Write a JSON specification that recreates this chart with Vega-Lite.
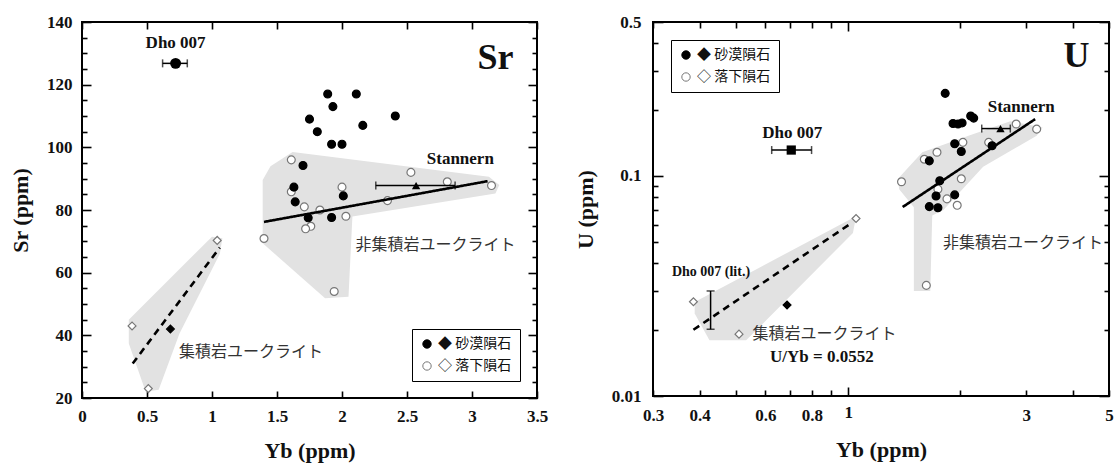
{
"$schema": "https://vega.github.io/schema/vega-lite/v6.json",
"padding": {"left": 8, "top": 12, "right": 5, "bottom": 5},
"autosize": {"type": "pad"},
"config": {
  "view": {"stroke": "#000", "strokeWidth": 2},
  "font": "Liberation Serif",
  "axis": {"grid": false, "domain": false, "labelFont": "Liberation Serif", "labelFontWeight": "bold", "labelFontSize": 17, "labelColor": "#111", "titleFont": "Liberation Serif", "titleFontWeight": "bold", "titleFontSize": 22, "titleColor": "#111", "tickColor": "#000", "tickWidth": 1.6, "labelFlush": false, "labelOverlap": false, "labelBound": false},
  "legend": {"strokeColor": "#000", "fillColor": "#fff", "padding": 8, "labelFont": "Noto Sans CJK JP", "labelFontSize": 14, "labelColor": "#111", "symbolSize": 70, "symbolStrokeColor": "#444", "symbolStrokeWidth": 1, "rowPadding": 8, "symbolType": "circle"}
},
"datasets": {
  "sr_pts": [
    {"yb": 1.61, "sr": 96, "src": "落下隕石", "grp": "非集積岩"},
    {"yb": 2.53, "sr": 92, "src": "落下隕石", "grp": "非集積岩"},
    {"yb": 2.81, "sr": 89, "src": "落下隕石", "grp": "非集積岩"},
    {"yb": 3.15, "sr": 87.8, "src": "落下隕石", "grp": "非集積岩"},
    {"yb": 2.00, "sr": 87.3, "src": "落下隕石", "grp": "非集積岩"},
    {"yb": 1.61, "sr": 85.8, "src": "落下隕石", "grp": "非集積岩"},
    {"yb": 2.35, "sr": 83, "src": "落下隕石", "grp": "非集積岩"},
    {"yb": 1.71, "sr": 81, "src": "落下隕石", "grp": "非集積岩"},
    {"yb": 1.83, "sr": 80, "src": "落下隕石", "grp": "非集積岩"},
    {"yb": 2.03, "sr": 78, "src": "落下隕石", "grp": "非集積岩"},
    {"yb": 1.76, "sr": 74.8, "src": "落下隕石", "grp": "非集積岩"},
    {"yb": 1.72, "sr": 74, "src": "落下隕石", "grp": "非集積岩"},
    {"yb": 1.40, "sr": 70.9, "src": "落下隕石", "grp": "非集積岩"},
    {"yb": 1.94, "sr": 54, "src": "落下隕石", "grp": "非集積岩"},
    {"yb": 1.04, "sr": 70.3, "src": "落下隕石", "grp": "集積岩"},
    {"yb": 0.385, "sr": 43, "src": "落下隕石", "grp": "集積岩"},
    {"yb": 0.51, "sr": 23, "src": "落下隕石", "grp": "集積岩"},
    {"yb": 1.89, "sr": 117, "src": "砂漠隕石", "grp": "非集積岩"},
    {"yb": 2.11, "sr": 117, "src": "砂漠隕石", "grp": "非集積岩"},
    {"yb": 1.93, "sr": 113, "src": "砂漠隕石", "grp": "非集積岩"},
    {"yb": 1.75, "sr": 109, "src": "砂漠隕石", "grp": "非集積岩"},
    {"yb": 2.41, "sr": 110, "src": "砂漠隕石", "grp": "非集積岩"},
    {"yb": 1.81, "sr": 105, "src": "砂漠隕石", "grp": "非集積岩"},
    {"yb": 2.16, "sr": 107, "src": "砂漠隕石", "grp": "非集積岩"},
    {"yb": 1.92, "sr": 101, "src": "砂漠隕石", "grp": "非集積岩"},
    {"yb": 2.00, "sr": 101, "src": "砂漠隕石", "grp": "非集積岩"},
    {"yb": 1.70, "sr": 94.2, "src": "砂漠隕石", "grp": "非集積岩"},
    {"yb": 1.63, "sr": 87.3, "src": "砂漠隕石", "grp": "非集積岩"},
    {"yb": 1.64, "sr": 82.6, "src": "砂漠隕石", "grp": "非集積岩"},
    {"yb": 2.01, "sr": 84.5, "src": "砂漠隕石", "grp": "非集積岩"},
    {"yb": 1.74, "sr": 77.5, "src": "砂漠隕石", "grp": "非集積岩"},
    {"yb": 1.92, "sr": 77.6, "src": "砂漠隕石", "grp": "非集積岩"},
    {"yb": 0.68, "sr": 42, "src": "砂漠隕石", "grp": "集積岩"}
  ],
  "sr_poly": [
    {"region": "非集積岩", "i": 0, "yb": 1.39, "sr": 69.4},
    {"region": "非集積岩", "i": 1, "yb": 1.39, "sr": 89.6},
    {"region": "非集積岩", "i": 2, "yb": 1.45, "sr": 94},
    {"region": "非集積岩", "i": 3, "yb": 1.62, "sr": 98.5},
    {"region": "非集積岩", "i": 4, "yb": 3.13, "sr": 90.6},
    {"region": "非集積岩", "i": 5, "yb": 3.21, "sr": 88},
    {"region": "非集積岩", "i": 6, "yb": 3.18, "sr": 85.3},
    {"region": "非集積岩", "i": 7, "yb": 2.08, "sr": 77.9},
    {"region": "非集積岩", "i": 8, "yb": 2.05, "sr": 52.3},
    {"region": "非集積岩", "i": 9, "yb": 1.87, "sr": 51.8},
    {"region": "集積岩", "i": 0, "yb": 0.36, "sr": 37.4},
    {"region": "集積岩", "i": 1, "yb": 0.36, "sr": 45},
    {"region": "集積岩", "i": 2, "yb": 1.0, "sr": 71.5},
    {"region": "集積岩", "i": 3, "yb": 1.08, "sr": 71},
    {"region": "集積岩", "i": 4, "yb": 1.06, "sr": 66},
    {"region": "集積岩", "i": 5, "yb": 0.75, "sr": 40.6},
    {"region": "集積岩", "i": 6, "yb": 0.59, "sr": 22.6},
    {"region": "集積岩", "i": 7, "yb": 0.49, "sr": 22}
  ],
  "sr_fit": [
    {"fit": "非集積岩", "yb": 1.40, "sr": 76.2},
    {"fit": "非集積岩", "yb": 3.12, "sr": 89.2},
    {"fit": "集積岩", "yb": 0.39, "sr": 31},
    {"fit": "集積岩", "yb": 1.06, "sr": 68}
  ],
  "sr_special": [
    {"name": "Dho 007", "yb": 0.72, "sr": 126.8, "lo": 0.62, "hi": 0.81},
    {"name": "Stannern", "yb": 2.57, "sr": 87.8, "lo": 2.26, "hi": 2.87}
  ],
  "sr_text": [
    {"label": "Dho 007", "yb": 0.72, "sr": 133.2, "kind": "name"},
    {"label": "Stannern", "yb": 2.91, "sr": 96.3, "kind": "name"},
    {"label": "Sr", "yb": 3.18, "sr": 128.6, "kind": "big"},
    {"label": "非集積岩ユークライト", "yb": 2.72, "sr": 68.8, "kind": "jp"},
    {"label": "集積岩ユークライト", "yb": 1.30, "sr": 34.8, "kind": "jp"}
  ],
  "u_pts": [
    {"yb": 2.82, "u": 0.172, "src": "落下隕石", "grp": "非集積岩"},
    {"yb": 3.2, "u": 0.163, "src": "落下隕石", "grp": "非集積岩"},
    {"yb": 2.38, "u": 0.142, "src": "落下隕石", "grp": "非集積岩"},
    {"yb": 2.03, "u": 0.142, "src": "落下隕石", "grp": "非集積岩"},
    {"yb": 1.73, "u": 0.128, "src": "落下隕石", "grp": "非集積岩"},
    {"yb": 1.60, "u": 0.119, "src": "落下隕石", "grp": "非集積岩"},
    {"yb": 1.39, "u": 0.094, "src": "落下隕石", "grp": "非集積岩"},
    {"yb": 2.01, "u": 0.097, "src": "落下隕石", "grp": "非集積岩"},
    {"yb": 1.74, "u": 0.087, "src": "落下隕石", "grp": "非集積岩"},
    {"yb": 1.84, "u": 0.0786, "src": "落下隕石", "grp": "非集積岩"},
    {"yb": 1.96, "u": 0.0735, "src": "落下隕石", "grp": "非集積岩"},
    {"yb": 1.62, "u": 0.0318, "src": "落下隕石", "grp": "非集積岩"},
    {"yb": 1.05, "u": 0.064, "src": "落下隕石", "grp": "集積岩"},
    {"yb": 0.385, "u": 0.0268, "src": "落下隕石", "grp": "集積岩"},
    {"yb": 0.51, "u": 0.0191, "src": "落下隕石", "grp": "集積岩"},
    {"yb": 1.82, "u": 0.237, "src": "砂漠隕石", "grp": "非集積岩"},
    {"yb": 2.13, "u": 0.187, "src": "砂漠隕石", "grp": "非集積岩"},
    {"yb": 2.17, "u": 0.183, "src": "砂漠隕石", "grp": "非集積岩"},
    {"yb": 1.91, "u": 0.173, "src": "砂漠隕石", "grp": "非集積岩"},
    {"yb": 1.97, "u": 0.172, "src": "砂漠隕石", "grp": "非集積岩"},
    {"yb": 2.02, "u": 0.174, "src": "砂漠隕石", "grp": "非集積岩"},
    {"yb": 1.93, "u": 0.140, "src": "砂漠隕石", "grp": "非集積岩"},
    {"yb": 2.01, "u": 0.129, "src": "砂漠隕石", "grp": "非集積岩"},
    {"yb": 1.65, "u": 0.117, "src": "砂漠隕石", "grp": "非集積岩"},
    {"yb": 2.43, "u": 0.137, "src": "砂漠隕石", "grp": "非集積岩"},
    {"yb": 1.76, "u": 0.095, "src": "砂漠隕石", "grp": "非集積岩"},
    {"yb": 1.72, "u": 0.081, "src": "砂漠隕石", "grp": "非集積岩"},
    {"yb": 1.65, "u": 0.0725, "src": "砂漠隕石", "grp": "非集積岩"},
    {"yb": 1.74, "u": 0.0717, "src": "砂漠隕石", "grp": "非集積岩"},
    {"yb": 1.93, "u": 0.082, "src": "砂漠隕石", "grp": "非集積岩"},
    {"yb": 0.686, "u": 0.0259, "src": "砂漠隕石", "grp": "集積岩"}
  ],
  "u_poly": [
    {"region": "非集積岩", "i": 0, "yb": 3.32, "u": 0.166},
    {"region": "非集積岩", "i": 1, "yb": 2.72, "u": 0.177},
    {"region": "非集積岩", "i": 2, "yb": 2.12, "u": 0.153},
    {"region": "非集積岩", "i": 3, "yb": 1.58, "u": 0.128},
    {"region": "非集積岩", "i": 4, "yb": 1.36, "u": 0.097},
    {"region": "非集積岩", "i": 5, "yb": 1.37, "u": 0.087},
    {"region": "非集積岩", "i": 6, "yb": 1.50, "u": 0.072},
    {"region": "非集積岩", "i": 7, "yb": 1.50, "u": 0.030},
    {"region": "非集積岩", "i": 8, "yb": 1.66, "u": 0.030},
    {"region": "非集積岩", "i": 9, "yb": 1.68, "u": 0.066},
    {"region": "非集積岩", "i": 10, "yb": 1.80, "u": 0.070},
    {"region": "非集積岩", "i": 11, "yb": 2.3, "u": 0.11},
    {"region": "非集積岩", "i": 12, "yb": 3.2, "u": 0.152},
    {"region": "集積岩", "i": 0, "yb": 0.388, "u": 0.0267},
    {"region": "集積岩", "i": 1, "yb": 1.05, "u": 0.0656},
    {"region": "集積岩", "i": 2, "yb": 1.03, "u": 0.055},
    {"region": "集積岩", "i": 3, "yb": 0.533, "u": 0.0179},
    {"region": "集積岩", "i": 4, "yb": 0.425, "u": 0.0179},
    {"region": "集積岩", "i": 5, "yb": 0.388, "u": 0.0237}
  ],
  "u_fit": [
    {"fit": "非集積岩", "yb": 1.40, "u": 0.0722},
    {"fit": "非集積岩", "yb": 3.17, "u": 0.181},
    {"fit": "集積岩", "yb": 0.385, "u": 0.020},
    {"fit": "集積岩", "yb": 1.02, "u": 0.061}
  ],
  "u_special": [
    {"name": "Dho 007", "yb": 0.704, "u": 0.131, "lo": 0.624, "hi": 0.798},
    {"name": "Stannern", "yb": 2.56, "u": 0.164, "lo": 2.28, "hi": 2.72}
  ],
  "u_lit": [
    {"name": "Dho 007 (lit.)", "yb": 0.428, "lo": 0.0201, "hi": 0.030}
  ],
  "u_text": [
    {"label": "Dho 007", "yb": 0.708, "u": 0.157, "kind": "name"},
    {"label": "Stannern", "yb": 2.91, "u": 0.205, "kind": "name"},
    {"label": "U/Yb = 0.0552", "yb": 0.85, "u": 0.015, "kind": "name"},
    {"label": "Dho 007 (lit.)", "yb": 0.429, "u": 0.0364, "kind": "small"},
    {"label": "U", "yb": 4.09, "u": 0.35, "kind": "big"},
    {"label": "非集積岩ユークライト", "yb": 2.94, "u": 0.0498, "kind": "jp"},
    {"label": "集積岩ユークライト", "yb": 0.864, "u": 0.0192, "kind": "jp"}
  ]
},
"spacing": 24,
"resolve": {"scale": {"fill": "independent", "stroke": "independent", "strokeDash": "independent"}},
"hconcat": [
{
  "width": 455,
  "height": 376,
  "resolve": {"axis": {"x": "independent", "y": "independent"}},
  "layer": [
    {
      "data": {"name": "sr_poly"},
      "mark": {"type": "line", "interpolate": "linear-closed", "fill": "#e2e2e2", "strokeOpacity": 0},
      "encoding": {
        "x": {"field": "yb", "type": "quantitative", "scale": {"domain": [0, 3.5], "nice": false, "zero": false},
              "axis": {"orient": "bottom", "values": [0, 0.5, 1, 1.5, 2, 2.5, 3, 3.5], "format": "~g", "tickSize": -7, "labelPadding": 17, "title": "Yb (ppm)", "titlePadding": 16}},
        "y": {"field": "sr", "type": "quantitative", "scale": {"domain": [20, 140], "nice": false, "zero": false},
              "axis": {"orient": "left", "values": [20,25,30,35,40,45,50,55,60,65,70,75,80,85,90,95,100,105,110,115,120,125,130,135,140], "labelExpr": "datum.value % 20 === 0 ? datum.label : ''", "tickSize": {"condition": {"test": "datum.value % 20 === 0", "value": -9}, "value": -5}, "labelPadding": 19, "title": "Sr (ppm)", "titlePadding": 14}},
        "detail": {"field": "region", "type": "nominal"},
        "order": {"field": "i", "type": "quantitative"}
      }
    },
    {
      "data": {"name": "sr_pts"},
      "mark": {"type": "point", "filled": true, "size": 62, "strokeWidth": 1.2, "opacity": 1},
      "encoding": {
        "x": {"field": "yb", "type": "quantitative", "scale": {"domain": [0, 3.5], "nice": false, "zero": false}, "axis": null},
        "y": {"field": "sr", "type": "quantitative", "scale": {"domain": [20, 140], "nice": false, "zero": false}, "axis": null},
        "fill": {"field": "src", "type": "nominal", "scale": {"domain": ["砂漠隕石", "落下隕石"], "range": ["#000000", "#ffffff"]},
                 "legend": {"title": null, "orient": "bottom-right", "offset": 17, "labelExpr": "(datum.label === '砂漠隕石' ? '◆ ' : '◇ ') + datum.label"}},
        "stroke": {"field": "src", "type": "nominal", "scale": {"domain": ["砂漠隕石", "落下隕石"], "range": ["#000000", "#777777"]}, "legend": null},
        "shape": {"field": "grp", "type": "nominal", "scale": {"domain": ["非集積岩", "集積岩"], "range": ["circle", "diamond"]}, "legend": null}
      }
    },
    {
      "data": {"name": "sr_fit"},
      "mark": {"type": "line", "color": "#000", "strokeWidth": 2.6},
      "encoding": {
        "x": {"field": "yb", "type": "quantitative", "scale": {"domain": [0, 3.5], "nice": false, "zero": false},
              "axis": {"orient": "top", "values": [0, 0.5, 1, 1.5, 2, 2.5, 3, 3.5], "tickSize": -7, "labels": false, "title": null}},
        "y": {"field": "sr", "type": "quantitative", "scale": {"domain": [20, 140], "nice": false, "zero": false},
              "axis": {"orient": "right", "values": [20,25,30,35,40,45,50,55,60,65,70,75,80,85,90,95,100,105,110,115,120,125,130,135,140], "tickSize": {"condition": {"test": "datum.value % 20 === 0", "value": -9}, "value": -5}, "labels": false, "title": null}},
        "strokeDash": {"field": "fit", "type": "nominal", "scale": {"domain": ["非集積岩", "集積岩"], "range": [[1, 0], [7, 5]]}, "legend": null},
        "detail": {"field": "fit", "type": "nominal"}
      }
    },
    {
      "data": {"name": "sr_special"},
      "mark": {"type": "errorbar", "ticks": {"size": 8}, "color": "#000", "thickness": 1.5},
      "encoding": {
        "x": {"field": "lo", "type": "quantitative", "scale": {"domain": [0, 3.5], "nice": false, "zero": false}, "axis": null},
        "x2": {"field": "hi"},
        "y": {"field": "sr", "type": "quantitative", "scale": {"domain": [20, 140], "nice": false, "zero": false}, "axis": null}
      }
    },
    {
      "data": {"name": "sr_special"},
      "transform": [{"filter": "datum.name === 'Dho 007'"}],
      "mark": {"type": "point", "shape": "circle", "filled": true, "color": "#000", "size": 120, "opacity": 1},
      "encoding": {
        "x": {"field": "yb", "type": "quantitative", "scale": {"domain": [0, 3.5], "nice": false, "zero": false}, "axis": null},
        "y": {"field": "sr", "type": "quantitative", "scale": {"domain": [20, 140], "nice": false, "zero": false}, "axis": null}
      }
    },
    {
      "data": {"name": "sr_special"},
      "transform": [{"filter": "datum.name === 'Stannern'"}],
      "mark": {"type": "point", "shape": "triangle-up", "filled": true, "color": "#000", "size": 70, "opacity": 1},
      "encoding": {
        "x": {"field": "yb", "type": "quantitative", "scale": {"domain": [0, 3.5], "nice": false, "zero": false}, "axis": null},
        "y": {"field": "sr", "type": "quantitative", "scale": {"domain": [20, 140], "nice": false, "zero": false}, "axis": null}
      }
    },
    {
      "data": {"name": "sr_text"},
      "transform": [{"filter": "datum.kind === 'name'"}],
      "mark": {"type": "text", "font": "Liberation Serif", "fontWeight": "bold", "fontSize": 17, "color": "#111"},
      "encoding": {
        "x": {"field": "yb", "type": "quantitative", "scale": {"domain": [0, 3.5], "nice": false, "zero": false}, "axis": null},
        "y": {"field": "sr", "type": "quantitative", "scale": {"domain": [20, 140], "nice": false, "zero": false}, "axis": null},
        "text": {"field": "label"}
      }
    },
    {
      "data": {"name": "sr_text"},
      "transform": [{"filter": "datum.kind === 'big'"}],
      "mark": {"type": "text", "font": "Liberation Serif", "fontWeight": "bold", "fontSize": 36, "color": "#111"},
      "encoding": {
        "x": {"field": "yb", "type": "quantitative", "scale": {"domain": [0, 3.5], "nice": false, "zero": false}, "axis": null},
        "y": {"field": "sr", "type": "quantitative", "scale": {"domain": [20, 140], "nice": false, "zero": false}, "axis": null},
        "text": {"field": "label"}
      }
    },
    {
      "data": {"name": "sr_text"},
      "transform": [{"filter": "datum.kind === 'jp'"}],
      "mark": {"type": "text", "font": "Noto Sans CJK JP", "fontSize": 16, "color": "#333"},
      "encoding": {
        "x": {"field": "yb", "type": "quantitative", "scale": {"domain": [0, 3.5], "nice": false, "zero": false}, "axis": null},
        "y": {"field": "sr", "type": "quantitative", "scale": {"domain": [20, 140], "nice": false, "zero": false}, "axis": null},
        "text": {"field": "label"}
      }
    }
  ]
},
{
  "width": 456,
  "height": 374,
  "resolve": {"axis": {"x": "independent", "y": "independent"}},
  "layer": [
    {
      "data": {"name": "u_poly"},
      "mark": {"type": "line", "interpolate": "linear-closed", "fill": "#e2e2e2", "strokeOpacity": 0},
      "encoding": {
        "x": {"field": "yb", "type": "quantitative", "scale": {"type": "log", "domain": [0.3, 5], "nice": false},
              "axis": {"orient": "bottom", "values": [0.3,0.4,0.5,0.6,0.7,0.8,0.9,1,2,3,4,5], "format": "~g", "labelExpr": "indexof([0.3,0.4,0.6,0.8,1,3,5], datum.value) >= 0 ? datum.label : ''", "tickSize": {"condition": {"test": "datum.value === 1", "value": -9}, "value": -6}, "labelPadding": 17, "title": "Yb (ppm)", "titlePadding": 16}},
        "y": {"field": "u", "type": "quantitative", "scale": {"type": "log", "domain": [0.01, 0.5], "nice": false},
              "axis": {"orient": "left", "values": [0.01,0.02,0.03,0.04,0.05,0.06,0.07,0.08,0.09,0.1,0.2,0.3,0.4,0.5], "format": "~g", "labelExpr": "indexof([0.01,0.1,0.5], datum.value) >= 0 ? datum.label : ''", "tickSize": {"condition": {"test": "indexof([0.01,0.1,0.5], datum.value) >= 0", "value": -10}, "value": -5}, "labelPadding": 22, "title": "U (ppm)", "titlePadding": 14}},
        "detail": {"field": "region", "type": "nominal"},
        "order": {"field": "i", "type": "quantitative"}
      }
    },
    {
      "data": {"name": "u_pts"},
      "mark": {"type": "point", "filled": true, "size": 62, "strokeWidth": 1.2, "opacity": 1},
      "encoding": {
        "x": {"field": "yb", "type": "quantitative", "scale": {"type": "log", "domain": [0.3, 5], "nice": false}, "axis": null},
        "y": {"field": "u", "type": "quantitative", "scale": {"type": "log", "domain": [0.01, 0.5], "nice": false}, "axis": null},
        "fill": {"field": "src", "type": "nominal", "scale": {"domain": ["砂漠隕石", "落下隕石"], "range": ["#000000", "#ffffff"]},
                 "legend": {"title": null, "orient": "top-left", "offset": 18, "labelExpr": "(datum.label === '砂漠隕石' ? '◆ ' : '◇ ') + datum.label"}},
        "stroke": {"field": "src", "type": "nominal", "scale": {"domain": ["砂漠隕石", "落下隕石"], "range": ["#000000", "#777777"]}, "legend": null},
        "shape": {"field": "grp", "type": "nominal", "scale": {"domain": ["非集積岩", "集積岩"], "range": ["circle", "diamond"]}, "legend": null}
      }
    },
    {
      "data": {"name": "u_fit"},
      "mark": {"type": "line", "color": "#000", "strokeWidth": 2.6},
      "encoding": {
        "x": {"field": "yb", "type": "quantitative", "scale": {"type": "log", "domain": [0.3, 5], "nice": false},
              "axis": {"orient": "top", "values": [0.3,0.4,0.5,0.6,0.7,0.8,0.9,1,2,3,4,5], "tickSize": {"condition": {"test": "datum.value === 1", "value": -9}, "value": -6}, "labels": false, "title": null}},
        "y": {"field": "u", "type": "quantitative", "scale": {"type": "log", "domain": [0.01, 0.5], "nice": false},
              "axis": {"orient": "right", "values": [0.01,0.02,0.03,0.04,0.05,0.06,0.07,0.08,0.09,0.1,0.2,0.3,0.4,0.5], "tickSize": {"condition": {"test": "indexof([0.01,0.1,0.5], datum.value) >= 0", "value": -10}, "value": -5}, "labels": false, "title": null}},
        "strokeDash": {"field": "fit", "type": "nominal", "scale": {"domain": ["非集積岩", "集積岩"], "range": [[1, 0], [7, 5]]}, "legend": null},
        "detail": {"field": "fit", "type": "nominal"}
      }
    },
    {
      "data": {"name": "u_special"},
      "mark": {"type": "errorbar", "ticks": {"size": 8}, "color": "#000", "thickness": 1.5},
      "encoding": {
        "x": {"field": "lo", "type": "quantitative", "scale": {"type": "log", "domain": [0.3, 5], "nice": false}, "axis": null},
        "x2": {"field": "hi"},
        "y": {"field": "u", "type": "quantitative", "scale": {"type": "log", "domain": [0.01, 0.5], "nice": false}, "axis": null}
      }
    },
    {
      "data": {"name": "u_lit"},
      "mark": {"type": "errorbar", "ticks": {"size": 8}, "color": "#000", "thickness": 1.5},
      "encoding": {
        "y": {"field": "lo", "type": "quantitative", "scale": {"type": "log", "domain": [0.01, 0.5], "nice": false}, "axis": null},
        "y2": {"field": "hi"},
        "x": {"field": "yb", "type": "quantitative", "scale": {"type": "log", "domain": [0.3, 5], "nice": false}, "axis": null}
      }
    },
    {
      "data": {"name": "u_special"},
      "transform": [{"filter": "datum.name === 'Dho 007'"}],
      "mark": {"type": "point", "shape": "square", "filled": true, "color": "#000", "size": 85, "opacity": 1},
      "encoding": {
        "x": {"field": "yb", "type": "quantitative", "scale": {"type": "log", "domain": [0.3, 5], "nice": false}, "axis": null},
        "y": {"field": "u", "type": "quantitative", "scale": {"type": "log", "domain": [0.01, 0.5], "nice": false}, "axis": null}
      }
    },
    {
      "data": {"name": "u_special"},
      "transform": [{"filter": "datum.name === 'Stannern'"}],
      "mark": {"type": "point", "shape": "triangle-up", "filled": true, "color": "#000", "size": 70, "opacity": 1},
      "encoding": {
        "x": {"field": "yb", "type": "quantitative", "scale": {"type": "log", "domain": [0.3, 5], "nice": false}, "axis": null},
        "y": {"field": "u", "type": "quantitative", "scale": {"type": "log", "domain": [0.01, 0.5], "nice": false}, "axis": null}
      }
    },
    {
      "data": {"name": "u_text"},
      "transform": [{"filter": "datum.kind === 'name'"}],
      "mark": {"type": "text", "font": "Liberation Serif", "fontWeight": "bold", "fontSize": 17, "color": "#111"},
      "encoding": {
        "x": {"field": "yb", "type": "quantitative", "scale": {"type": "log", "domain": [0.3, 5], "nice": false}, "axis": null},
        "y": {"field": "u", "type": "quantitative", "scale": {"type": "log", "domain": [0.01, 0.5], "nice": false}, "axis": null},
        "text": {"field": "label"}
      }
    },
    {
      "data": {"name": "u_text"},
      "transform": [{"filter": "datum.kind === 'small'"}],
      "mark": {"type": "text", "font": "Liberation Serif", "fontWeight": "bold", "fontSize": 14, "color": "#111"},
      "encoding": {
        "x": {"field": "yb", "type": "quantitative", "scale": {"type": "log", "domain": [0.3, 5], "nice": false}, "axis": null},
        "y": {"field": "u", "type": "quantitative", "scale": {"type": "log", "domain": [0.01, 0.5], "nice": false}, "axis": null},
        "text": {"field": "label"}
      }
    },
    {
      "data": {"name": "u_text"},
      "transform": [{"filter": "datum.kind === 'big'"}],
      "mark": {"type": "text", "font": "Liberation Serif", "fontWeight": "bold", "fontSize": 36, "color": "#111"},
      "encoding": {
        "x": {"field": "yb", "type": "quantitative", "scale": {"type": "log", "domain": [0.3, 5], "nice": false}, "axis": null},
        "y": {"field": "u", "type": "quantitative", "scale": {"type": "log", "domain": [0.01, 0.5], "nice": false}, "axis": null},
        "text": {"field": "label"}
      }
    },
    {
      "data": {"name": "u_text"},
      "transform": [{"filter": "datum.kind === 'jp'"}],
      "mark": {"type": "text", "font": "Noto Sans CJK JP", "fontSize": 16, "color": "#333"},
      "encoding": {
        "x": {"field": "yb", "type": "quantitative", "scale": {"type": "log", "domain": [0.3, 5], "nice": false}, "axis": null},
        "y": {"field": "u", "type": "quantitative", "scale": {"type": "log", "domain": [0.01, 0.5], "nice": false}, "axis": null},
        "text": {"field": "label"}
      }
    }
  ]
}
]
}
